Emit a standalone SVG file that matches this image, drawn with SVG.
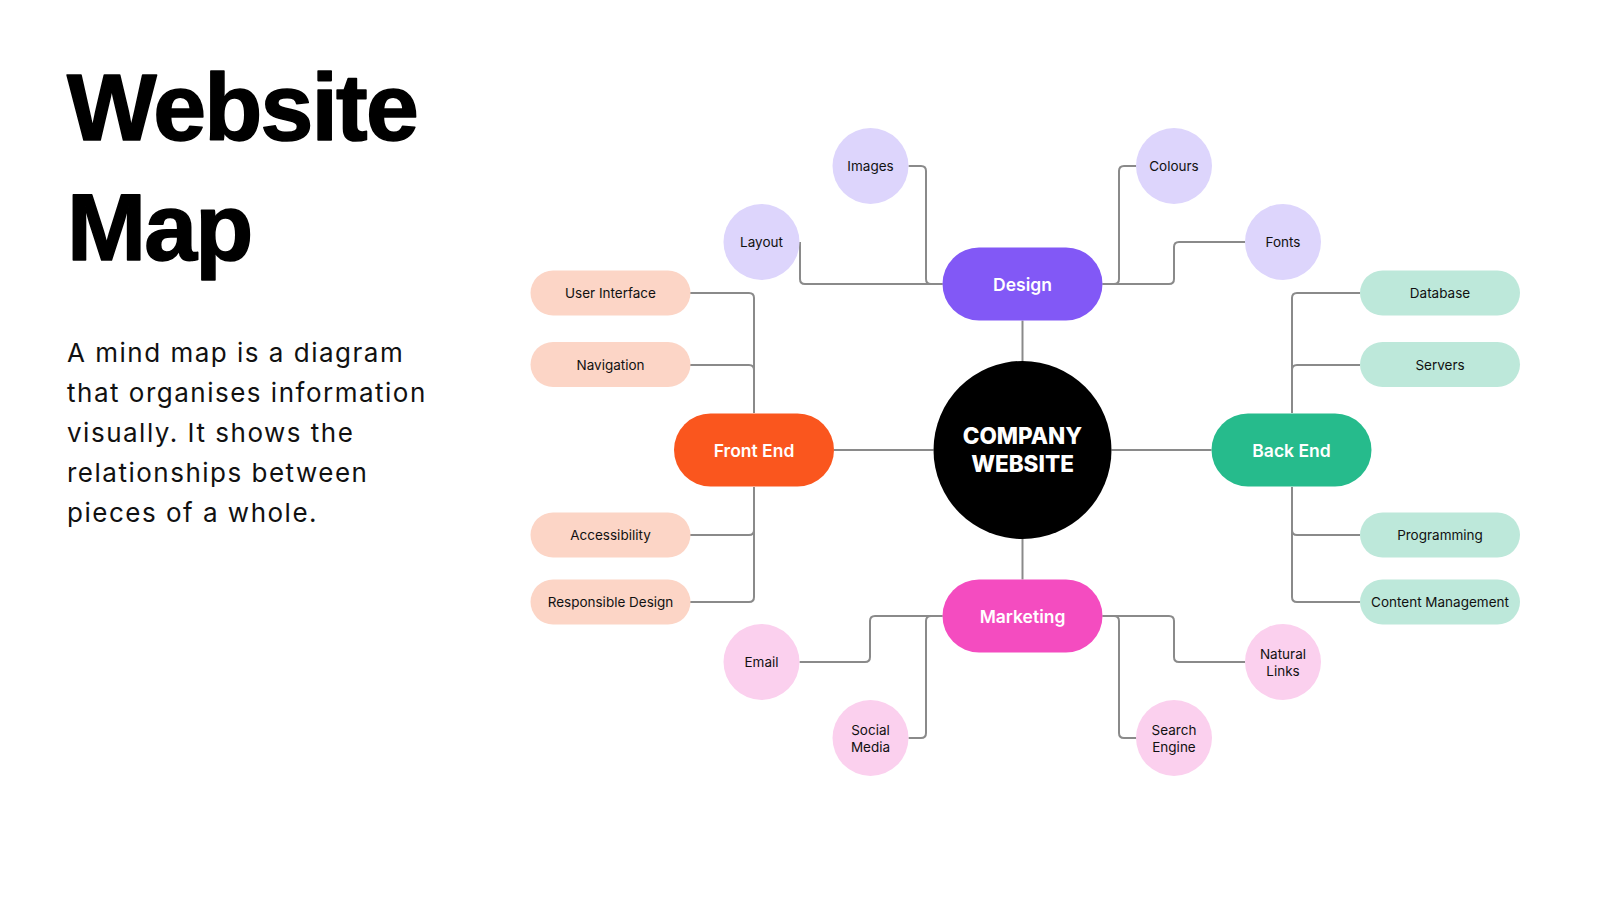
<svg xmlns="http://www.w3.org/2000/svg" width="1600" height="900" viewBox="0 0 1600 900">
<style>
.title{font-family:"Liberation Sans",Arial,sans-serif;font-weight:700;font-size:95px;letter-spacing:-1.8px;fill:#000;stroke:#000;stroke-width:1.6px;stroke-linejoin:round}
.body{font-family:Inter,"Liberation Sans",sans-serif;font-size:26px;letter-spacing:1.5px;fill:#111}
.lbl{font-family:Inter,"Liberation Sans",sans-serif;font-size:13.5px;fill:#111;text-anchor:middle;dominant-baseline:central}
.main{font-family:Inter,"Liberation Sans",sans-serif;font-size:17.5px;font-weight:600;fill:#fff;text-anchor:middle;dominant-baseline:central}
.core{font-family:Inter,"Liberation Sans",sans-serif;font-size:22.5px;font-weight:800;fill:#fff;text-anchor:middle}
.con path{fill:none;stroke:#8a8a8a;stroke-width:2}
.pu{fill:#ddd5fc}.pk{fill:#fbd0ee}.pe{fill:#fcd5c6}.mi{fill:#bde8da}
</style>
<rect width="1600" height="900" fill="#fff"/>
<g id="heading">
<text class="title" x="67" y="140">Website</text>
<text class="title" x="67" y="260">Map</text>
<text class="body" x="67" y="361.5">A mind map is a diagram</text>
<text class="body" x="67" y="401.5">that organises information</text>
<text class="body" x="67" y="441.5">visually. It shows the</text>
<text class="body" x="67" y="481.5">relationships between</text>
<text class="body" x="67" y="521.5">pieces of a whole.</text>
</g>
<g class="con" id="connectors">
<path d="M1022.5 320.5V361"/>
<path d="M1022.5 539V579.5"/>
<path d="M834 450H933.5"/>
<path d="M1111.5 450H1211.5"/>
<path d="M942.5 284H931Q926 284 926 279V171Q926 166 921 166H908.5"/>
<path d="M942.5 284H805Q800 284 800 279V242"/>
<path d="M1102.5 284H1114Q1119 284 1119 279V171Q1119 166 1124 166H1136.5"/>
<path d="M1102.5 284H1169Q1174 284 1174 279V247Q1174 242 1179 242H1245"/>
<path d="M942.5 616H875Q870 616 870 621V657Q870 662 865 662H799.5"/>
<path d="M942.5 616H931Q926 616 926 621V733Q926 738 921 738H908.5"/>
<path d="M1102.5 616H1114Q1119 616 1119 621V733Q1119 738 1124 738H1136.5"/>
<path d="M1102.5 616H1169Q1174 616 1174 621V657Q1174 662 1179 662H1245"/>
<path d="M754 413V298Q754 293 749 293H690"/>
<path d="M754 413V370Q754 365 749 365H690"/>
<path d="M754 487V530Q754 535 749 535H690"/>
<path d="M754 487V597Q754 602 749 602H690"/>
<path d="M1292 413V298Q1292 293 1297 293H1360"/>
<path d="M1292 413V370Q1292 365 1297 365H1360"/>
<path d="M1292 487V530Q1292 535 1297 535H1360"/>
<path d="M1292 487V597Q1292 602 1297 602H1360"/>
</g>
<g id="center"><circle cx="1022.5" cy="450" r="89" fill="#000"/><text class="core" x="1022.5" y="444">COMPANY</text><text class="core" x="1022.5" y="472">WEBSITE</text></g>
<g id="design"><rect x="942.5" y="247.5" width="160" height="73" rx="36.5" fill="#8258f6"/><text class="main" x="1022.5" y="284">Design</text></g>
<g id="frontend"><rect x="674" y="413.5" width="160" height="73" rx="36.5" fill="#fa561e"/><text class="main" x="754" y="450">Front End</text></g>
<g id="backend"><rect x="1211.5" y="413.5" width="160" height="73" rx="36.5" fill="#26bb8c"/><text class="main" x="1291.5" y="450">Back End</text></g>
<g id="marketing"><rect x="942.5" y="579.5" width="160" height="73" rx="36.5" fill="#f44cc0"/><text class="main" x="1022.5" y="616">Marketing</text></g>
<g id="images"><circle class="pu" cx="870.5" cy="166" r="38"/><text class="lbl" x="870.5" y="166">Images</text></g>
<g id="layout"><circle class="pu" cx="761.5" cy="242" r="38"/><text class="lbl" x="761.5" y="242">Layout</text></g>
<g id="colours"><circle class="pu" cx="1174" cy="166" r="38"/><text class="lbl" x="1174" y="166">Colours</text></g>
<g id="fonts"><circle class="pu" cx="1283" cy="242" r="38"/><text class="lbl" x="1283" y="242">Fonts</text></g>
<g id="email"><circle class="pk" cx="761.5" cy="662" r="38"/><text class="lbl" x="761.5" y="662">Email</text></g>
<g id="social"><circle class="pk" cx="870.5" cy="738" r="38"/><text class="lbl" x="870.5" y="730">Social</text><text class="lbl" x="870.5" y="746.5">Media</text></g>
<g id="search"><circle class="pk" cx="1174" cy="738" r="38"/><text class="lbl" x="1174" y="730">Search</text><text class="lbl" x="1174" y="746.5">Engine</text></g>
<g id="natural"><circle class="pk" cx="1283" cy="662" r="38"/><text class="lbl" x="1283" y="654">Natural</text><text class="lbl" x="1283" y="670.5">Links</text></g>
<g id="ui"><rect class="pe" x="530.5" y="270.5" width="160" height="45" rx="22.5"/><text class="lbl" x="610.5" y="293">User Interface</text></g>
<g id="nav"><rect class="pe" x="530.5" y="342" width="160" height="45" rx="22.5"/><text class="lbl" x="610.5" y="364.5">Navigation</text></g>
<g id="access"><rect class="pe" x="530.5" y="512.5" width="160" height="45" rx="22.5"/><text class="lbl" x="610.5" y="535">Accessibility</text></g>
<g id="respdesign"><rect class="pe" x="530.5" y="579.5" width="160" height="45" rx="22.5"/><text class="lbl" x="610.5" y="602">Responsible Design</text></g>
<g id="database"><rect class="mi" x="1360" y="270.5" width="160" height="45" rx="22.5"/><text class="lbl" x="1440" y="293">Database</text></g>
<g id="servers"><rect class="mi" x="1360" y="342" width="160" height="45" rx="22.5"/><text class="lbl" x="1440" y="364.5">Servers</text></g>
<g id="programming"><rect class="mi" x="1360" y="512.5" width="160" height="45" rx="22.5"/><text class="lbl" x="1440" y="535">Programming</text></g>
<g id="content"><rect class="mi" x="1360" y="579.5" width="160" height="45" rx="22.5"/><text class="lbl" x="1440" y="602">Content Management</text></g>
</svg>
